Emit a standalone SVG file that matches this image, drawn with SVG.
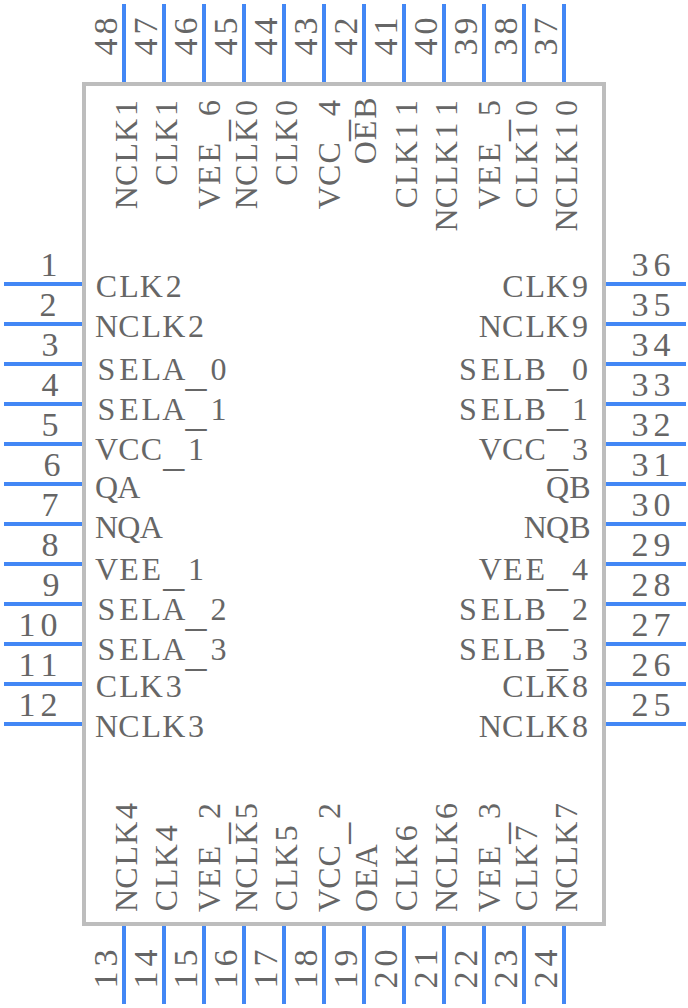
<svg xmlns="http://www.w3.org/2000/svg" width="688" height="1008" viewBox="0 0 688 1008">
<style>
text{font-family:"Liberation Serif",serif;font-size:32px;fill:#666;text-anchor:middle}
.n{font-size:34px}
.u{font-size:42px}
.p{stroke:#4287f5;stroke-width:4;fill:none}
</style>
<rect width="688" height="1008" fill="#fff"/>
<g id="connectors">
<path class="p" d="M4 284H82M4 324H82M4 364H82M4 404H82M4 444H82M4 484H82M4 524H82M4 564H82M4 604H82M4 644H82M4 684H82M4 724H82"/>
<path class="p" d="M606 284H686M606 324H686M606 364H686M606 404H686M606 444H686M606 484H686M606 524H686M606 564H686M606 604H686M606 644H686M606 684H686M606 724H686"/>
<path class="p" d="M124 4V82M164 4V82M204 4V82M244 4V82M284 4V82M324 4V82M364 4V82M404 4V82M444 4V82M484 4V82M524 4V82M564 4V82"/>
<path class="p" d="M124 926V1004M164 926V1004M204 926V1004M244 926V1004M284 926V1004M324 926V1004M364 926V1004M404 926V1004M444 926V1004M484 926V1004M524 926V1004M564 926V1004"/>
</g>
<g id="body"><rect x="84" y="84" width="520" height="840" fill="#fff" stroke="#bdbdbd" stroke-width="4"/></g>
<g id="left-labels">
<text transform="translate(106.5 297)" x="0 22.4 44.8 67.2">CLK2</text>
<text transform="translate(106.5 337)" x="0 22.4 44.8 67.2 89.6">NCLK2</text>
<text transform="translate(106.5 380)" x="0 22.4 44.8 67.2">SELA<tspan class="u" x="89.6" dy="5.8">_</tspan><tspan x="112" dy="-5.8">0</tspan></text>
<text transform="translate(106.5 420)" x="0 22.4 44.8 67.2">SELA<tspan class="u" x="89.6" dy="5.8">_</tspan><tspan x="112" dy="-5.8">1</tspan></text>
<text transform="translate(106.5 460)" x="0 22.4 44.8">VCC<tspan class="u" x="67.2" dy="5.8">_</tspan><tspan x="89.6" dy="-5.8">1</tspan></text>
<text transform="translate(106.5 498)" x="0 22.4">QA</text>
<text transform="translate(106.5 538)" x="0 22.4 44.8">NQA</text>
<text transform="translate(106.5 580)" x="0 22.4 44.8">VEE<tspan class="u" x="67.2" dy="5.8">_</tspan><tspan x="89.6" dy="-5.8">1</tspan></text>
<text transform="translate(106.5 620)" x="0 22.4 44.8 67.2">SELA<tspan class="u" x="89.6" dy="5.8">_</tspan><tspan x="112" dy="-5.8">2</tspan></text>
<text transform="translate(106.5 660)" x="0 22.4 44.8 67.2">SELA<tspan class="u" x="89.6" dy="5.8">_</tspan><tspan x="112" dy="-5.8">3</tspan></text>
<text transform="translate(106.5 697)" x="0 22.4 44.8 67.2">CLK3</text>
<text transform="translate(106.5 737)" x="0 22.4 44.8 67.2 89.6">NCLK3</text>
</g>
<g id="right-labels">
<text transform="translate(512.8 297)" x="0 22.4 44.8 67.2">CLK9</text>
<text transform="translate(490.4 337)" x="0 22.4 44.8 67.2 89.6">NCLK9</text>
<text transform="translate(468 380)" x="0 22.4 44.8 67.2">SELB<tspan class="u" x="89.6" dy="5.8">_</tspan><tspan x="112" dy="-5.8">0</tspan></text>
<text transform="translate(468 420)" x="0 22.4 44.8 67.2">SELB<tspan class="u" x="89.6" dy="5.8">_</tspan><tspan x="112" dy="-5.8">1</tspan></text>
<text transform="translate(490.4 460)" x="0 22.4 44.8">VCC<tspan class="u" x="67.2" dy="5.8">_</tspan><tspan x="89.6" dy="-5.8">3</tspan></text>
<text transform="translate(557.6 498)" x="0 22.4">QB</text>
<text transform="translate(535.2 538)" x="0 22.4 44.8">NQB</text>
<text transform="translate(490.4 580)" x="0 22.4 44.8">VEE<tspan class="u" x="67.2" dy="5.8">_</tspan><tspan x="89.6" dy="-5.8">4</tspan></text>
<text transform="translate(468 620)" x="0 22.4 44.8 67.2">SELB<tspan class="u" x="89.6" dy="5.8">_</tspan><tspan x="112" dy="-5.8">2</tspan></text>
<text transform="translate(468 660)" x="0 22.4 44.8 67.2">SELB<tspan class="u" x="89.6" dy="5.8">_</tspan><tspan x="112" dy="-5.8">3</tspan></text>
<text transform="translate(512.8 697)" x="0 22.4 44.8 67.2">CLK8</text>
<text transform="translate(490.4 737)" x="0 22.4 44.8 67.2 89.6">NCLK8</text>
</g>
<g id="top-labels">
<text transform="translate(137 197.6) rotate(-90)" x="0 22.4 44.8 67.2 89.6">NCLK1</text>
<text transform="translate(177 175.2) rotate(-90)" x="0 22.4 44.8 67.2">CLK1</text>
<text transform="translate(220 197.6) rotate(-90)" x="0 22.4 44.8">VEE<tspan class="u" x="67.2" dy="5.8">_</tspan><tspan x="89.6" dy="-5.8">6</tspan></text>
<text transform="translate(257 197.6) rotate(-90)" x="0 22.4 44.8 67.2 89.6">NCLK0</text>
<text transform="translate(297 175.2) rotate(-90)" x="0 22.4 44.8 67.2">CLK0</text>
<text transform="translate(340 197.6) rotate(-90)" x="0 22.4 44.8">VCC<tspan class="u" x="67.2" dy="5.8">_</tspan><tspan x="89.6" dy="-5.8">4</tspan></text>
<text transform="translate(376 152.8) rotate(-90)" x="0 22.4 44.8">OEB</text>
<text transform="translate(417 197.6) rotate(-90)" x="0 22.4 44.8 67.2 89.6">CLK11</text>
<text transform="translate(457 220) rotate(-90)" x="0 22.4 44.8 67.2 89.6 112">NCLK11</text>
<text transform="translate(500 197.6) rotate(-90)" x="0 22.4 44.8">VEE<tspan class="u" x="67.2" dy="5.8">_</tspan><tspan x="89.6" dy="-5.8">5</tspan></text>
<text transform="translate(537 197.6) rotate(-90)" x="0 22.4 44.8 67.2 89.6">CLK10</text>
<text transform="translate(577 220) rotate(-90)" x="0 22.4 44.8 67.2 89.6 112">NCLK10</text>
</g>
<g id="bottom-labels">
<text transform="translate(137 900.5) rotate(-90)" x="0 22.4 44.8 67.2 89.6">NCLK4</text>
<text transform="translate(177 900.5) rotate(-90)" x="0 22.4 44.8 67.2">CLK4</text>
<text transform="translate(220 900.5) rotate(-90)" x="0 22.4 44.8">VEE<tspan class="u" x="67.2" dy="5.8">_</tspan><tspan x="89.6" dy="-5.8">2</tspan></text>
<text transform="translate(257 900.5) rotate(-90)" x="0 22.4 44.8 67.2 89.6">NCLK5</text>
<text transform="translate(297 900.5) rotate(-90)" x="0 22.4 44.8 67.2">CLK5</text>
<text transform="translate(340 900.5) rotate(-90)" x="0 22.4 44.8">VCC<tspan class="u" x="67.2" dy="5.8">_</tspan><tspan x="89.6" dy="-5.8">2</tspan></text>
<text transform="translate(377 900.5) rotate(-90)" x="0 22.4 44.8">OEA</text>
<text transform="translate(417 900.5) rotate(-90)" x="0 22.4 44.8 67.2">CLK6</text>
<text transform="translate(457 900.5) rotate(-90)" x="0 22.4 44.8 67.2 89.6">NCLK6</text>
<text transform="translate(500 900.5) rotate(-90)" x="0 22.4 44.8">VEE<tspan class="u" x="67.2" dy="5.8">_</tspan><tspan x="89.6" dy="-5.8">3</tspan></text>
<text transform="translate(537 900.5) rotate(-90)" x="0 22.4 44.8 67.2">CLK7</text>
<text transform="translate(577 900.5) rotate(-90)" x="0 22.4 44.8 67.2 89.6">NCLK7</text>
</g>
<g id="pin-numbers-left">
<text class="n" x="49" y="276">1</text>
<text class="n" x="48" y="316">2</text>
<text class="n" x="50" y="356">3</text>
<text class="n" x="50" y="396">4</text>
<text class="n" x="50" y="436">5</text>
<text class="n" x="52" y="476">6</text>
<text class="n" x="50" y="516">7</text>
<text class="n" x="50" y="556">8</text>
<text class="n" x="51" y="596">9</text>
<text class="n" x="27 49" y="636">10</text>
<text class="n" x="27 49" y="676">11</text>
<text class="n" x="27 49" y="716">12</text>
</g>
<g id="pin-numbers-right">
<text class="n" x="640 662" y="276">36</text>
<text class="n" x="640 662" y="316">35</text>
<text class="n" x="640 662" y="356">34</text>
<text class="n" x="640 662" y="396">33</text>
<text class="n" x="640 662" y="436">32</text>
<text class="n" x="640 662" y="476">31</text>
<text class="n" x="640 662" y="516">30</text>
<text class="n" x="640 662" y="556">29</text>
<text class="n" x="640 662" y="596">28</text>
<text class="n" x="640 662" y="636">27</text>
<text class="n" x="640 662" y="676">26</text>
<text class="n" x="640 662" y="716">25</text>
</g>
<g id="pin-numbers-top">
<text class="n" transform="translate(117 47) rotate(-90)" x="0 21">48</text>
<text class="n" transform="translate(157 47) rotate(-90)" x="0 21">47</text>
<text class="n" transform="translate(197 47) rotate(-90)" x="0 21">46</text>
<text class="n" transform="translate(237 47) rotate(-90)" x="0 21">45</text>
<text class="n" transform="translate(277 47) rotate(-90)" x="0 21">44</text>
<text class="n" transform="translate(317 47) rotate(-90)" x="0 21">43</text>
<text class="n" transform="translate(357 47) rotate(-90)" x="0 21">42</text>
<text class="n" transform="translate(397 47) rotate(-90)" x="0 21">41</text>
<text class="n" transform="translate(437 47) rotate(-90)" x="0 21">40</text>
<text class="n" transform="translate(477 47) rotate(-90)" x="0 21">39</text>
<text class="n" transform="translate(517 47) rotate(-90)" x="0 21">38</text>
<text class="n" transform="translate(557 47) rotate(-90)" x="0 21">37</text>
</g>
<g id="pin-numbers-bottom">
<text class="n" transform="translate(117 980) rotate(-90)" x="0 22">13</text>
<text class="n" transform="translate(157 980) rotate(-90)" x="0 22">14</text>
<text class="n" transform="translate(197 980) rotate(-90)" x="0 22">15</text>
<text class="n" transform="translate(237 980) rotate(-90)" x="0 22">16</text>
<text class="n" transform="translate(277 980) rotate(-90)" x="0 22">17</text>
<text class="n" transform="translate(317 980) rotate(-90)" x="0 22">18</text>
<text class="n" transform="translate(357 980) rotate(-90)" x="0 22">19</text>
<text class="n" transform="translate(397 980) rotate(-90)" x="0 22">20</text>
<text class="n" transform="translate(437 980) rotate(-90)" x="0 22">21</text>
<text class="n" transform="translate(477 980) rotate(-90)" x="0 22">22</text>
<text class="n" transform="translate(517 980) rotate(-90)" x="0 22">23</text>
<text class="n" transform="translate(557 980) rotate(-90)" x="0 22">24</text>
</g>
</svg>
